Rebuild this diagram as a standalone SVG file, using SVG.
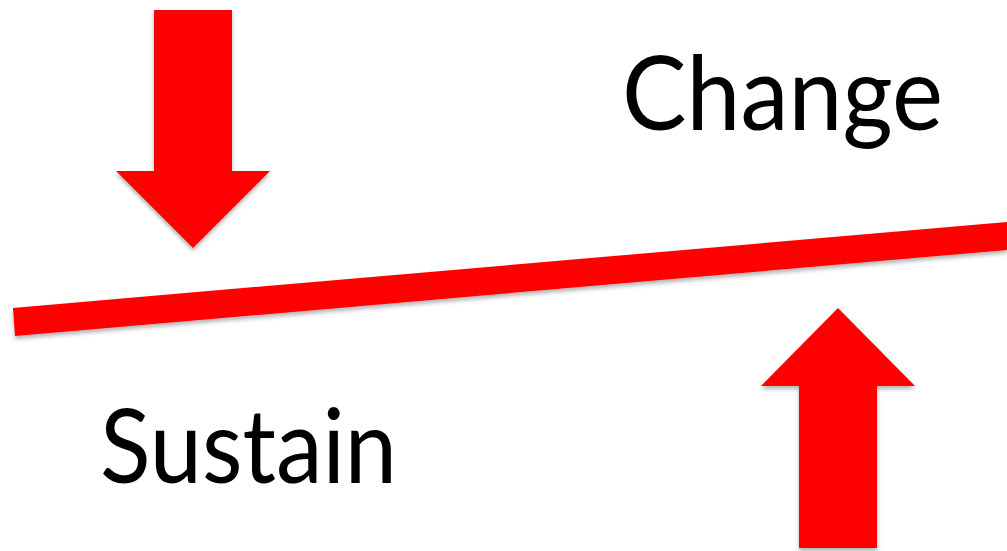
<svg xmlns="http://www.w3.org/2000/svg" width="1007" height="551" viewBox="0 0 1007 551">
<defs>
<filter id="sh" x="-10%" y="-10%" width="130%" height="130%">
<feDropShadow dx="0" dy="3" stdDeviation="2" flood-color="#000" flood-opacity="0.3"/>
</filter>
</defs>
<style>
.shape{fill:#ff0000;filter:url(#sh)}
.lbl{font-family:Lato,"Open Sans","Liberation Sans",sans-serif;font-weight:400;font-size:102px;fill:#000}
</style>
<rect width="1007" height="551" fill="#fff"/>
<g id="connectors">
<polygon id="line" class="shape" points="13,308 1007,222 1007,250 15,336"/>
</g>
<g id="down-arrow">
<polygon class="shape" points="154,10 232,10 232,171 270,171 193,248 116,171 154,171"/>
</g>
<g id="up-arrow">
<polygon class="shape" points="838,308 915,386 877,386 877,548 799,548 799,386 761,386"/>
</g>
<g id="change">
<text class="lbl" x="622" y="130" textLength="321" lengthAdjust="spacingAndGlyphs">Change</text>
</g>
<g id="sustain">
<text class="lbl" x="100" y="483" textLength="297" lengthAdjust="spacingAndGlyphs">Sustain</text>
</g>
</svg>
